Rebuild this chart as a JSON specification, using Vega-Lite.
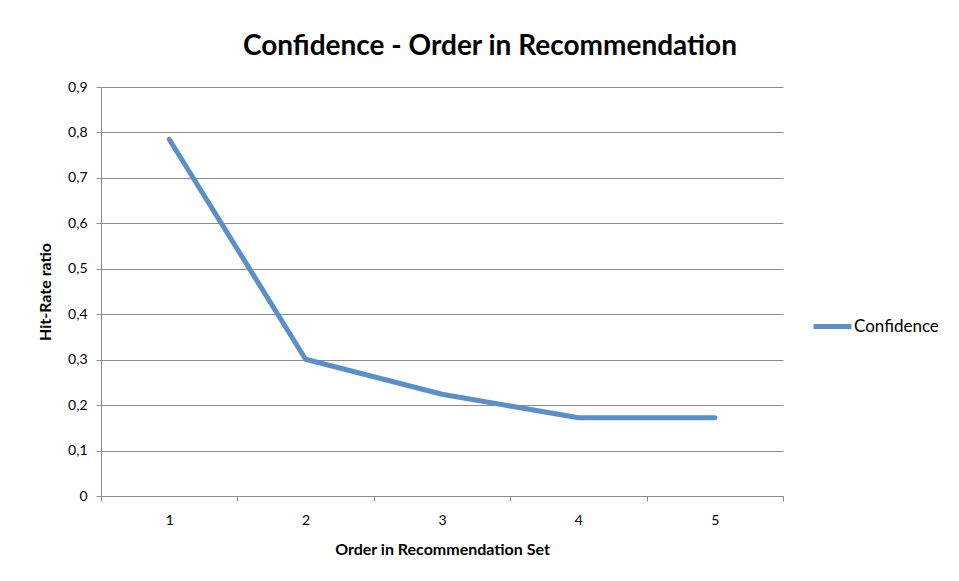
{
  "$schema": "https://vega.github.io/schema/vega-lite/v6.json",
  "autosize": "none",
  "width": 682,
  "height": 409,
  "padding": {"left": 101, "top": 87, "right": 176, "bottom": 85},
  "background": "white",
  "title": {
    "text": "Confidence - Order in Recommendation",
    "font": "Lato",
    "fontSize": 28,
    "fontWeight": "bold",
    "color": "#000000",
    "anchor": "middle",
    "dx": 48,
    "offset": 19
  },
  "data": {
    "values": [
      {"order": "1", "ratio": 0.785, "series": "Confidence"},
      {"order": "2", "ratio": 0.301, "series": "Confidence"},
      {"order": "3", "ratio": 0.224, "series": "Confidence"},
      {"order": "4", "ratio": 0.172, "series": "Confidence"},
      {"order": "5", "ratio": 0.172, "series": "Confidence"}
    ]
  },
  "mark": {"type": "line", "strokeWidth": 5, "strokeCap": "round", "strokeJoin": "round"},
  "encoding": {
    "x": {
      "field": "order",
      "type": "ordinal",
      "scale": {"type": "band", "paddingInner": 0, "paddingOuter": 0},
      "axis": {
        "title": "Order in Recommendation Set",
        "titleFont": "Lato",
        "titleFontSize": 16,
        "titleFontWeight": "bold",
        "titleColor": "#000000",
        "titlePadding": 14,
        "labelFont": "Lato",
        "labelFontSize": 14,
        "labelColor": "#000000",
        "labelAngle": 0,
        "labelPadding": 12,
        "tickBand": "extent",
        "tickSize": 5,
        "tickColor": "#8c8c8c",
        "domainColor": "#8c8c8c",
        "grid": false
      }
    },
    "y": {
      "field": "ratio",
      "type": "quantitative",
      "scale": {"domain": [0, 0.9], "nice": false},
      "axis": {
        "title": "Hit-Rate ratio",
        "titleFont": "Lato",
        "titleFontSize": 16,
        "titleFontWeight": "bold",
        "titleColor": "#000000",
        "titlePadding": 14,
        "values": [0, 0.1, 0.2, 0.3, 0.4, 0.5, 0.6, 0.7, 0.8, 0.9],
        "labelExpr": "datum.value == 0 ? '0' : replace(format(datum.value, '.1f'), '.', ',')",
        "labelFont": "Lato",
        "labelFontSize": 14,
        "labelColor": "#000000",
        "labelPadding": 9,
        "tickSize": 5,
        "tickColor": "#8c8c8c",
        "domainColor": "#8c8c8c",
        "grid": true,
        "gridColor": "#8c8c8c",
        "gridWidth": 1
      }
    },
    "color": {
      "field": "series",
      "type": "nominal",
      "scale": {"range": ["#5b8fc9"]},
      "legend": {
        "title": null,
        "orient": "none",
        "legendX": 710,
        "legendY": 218,
        "symbolType": "stroke",
        "symbolSize": 1444,
        "symbolStrokeWidth": 5,
        "labelFont": "Lato",
        "labelFontSize": 17,
        "labelColor": "#000000",
        "labelOffset": 0
      }
    }
  },
  "config": {
    "view": {"stroke": null}
  }
}
